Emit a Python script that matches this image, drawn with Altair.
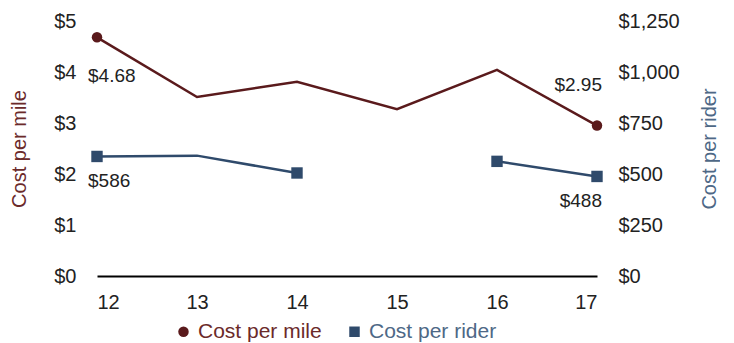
import altair as alt
import pandas as pd

years = [12, 13, 14, 15, 16, 17]
cost_per_mile = [4.68, 3.51, 3.81, 3.27, 4.04, 2.95]
cost_per_rider = [586, 590, 505, None, 562, 488]
series_names = ["Cost per mile", "Cost per rider"]
series_colors = ["#5a1a1c", "#2f4a6b"]
text_colors = ["#6b2a2a", "#4e6886"]
series_shapes = ["circle", "square"]
left_ticks = [0, 1, 2, 3, 4, 5]
right_ticks = [0, 250, 500, 750, 1000, 1250]

FONT = "Liberation Sans"


def frame(values, name, fmt):
    df = pd.DataFrame({"year": years, "value": values, "series": name})
    v = df["value"]
    df["marker"] = v.notna() & (v.shift(1).isna() | v.shift(-1).isna())
    first, last = v.first_valid_index(), v.last_valid_index()
    df["label"] = ""
    df.loc[first, "label"] = fmt(v[first])
    df.loc[last, "label"] = fmt(v[last])
    df["pos"] = ""
    df.loc[first, "pos"] = "first"
    df.loc[last, "pos"] = "last"
    return df


df_m = frame(cost_per_mile, series_names[0], lambda x: f"${x:.2f}")
df_r = frame(cost_per_rider, series_names[1], lambda x: f"${x:,.0f}")

x_enc = alt.X(
    "year:Q",
    scale=alt.Scale(domain=[years[0], years[-1]], nice=False, zero=False),
    axis=alt.Axis(values=years, format="d", title=None, grid=False, ticks=False,
                  domainColor="black", domainWidth=2, labelPadding=16,
                  labelFontSize=20, labelColor="#222", labelFont=FONT),
)

legend = alt.Legend(title=None, orient="none", direction="horizontal",
                    legendX=76, legendY=300, symbolSize=110, labelFontSize=21,
                    labelFont=FONT, columnPadding=22, symbolStrokeWidth=0,
                    labelColor={"expr": f"datum.value == '{series_names[0]}' ? '{text_colors[0]}' : '{text_colors[1]}'"})
color_enc = alt.Color("series:N", scale=alt.Scale(domain=series_names, range=series_colors), legend=legend)
shape_enc = alt.Shape("series:N", scale=alt.Scale(domain=series_names, range=series_shapes), legend=legend)


def side(df, idx, ticks, fmt, orient, title, dy_first, dy_last, size):
    y_enc = alt.Y(
        "value:Q",
        scale=alt.Scale(domain=[ticks[0], ticks[-1]], nice=False),
        axis=alt.Axis(values=ticks, format=fmt, title=title, orient=orient, grid=False,
                      ticks=False, domain=False, labelPadding=21, labelFontSize=20,
                      labelColor="#222", labelFont=FONT, titleFont=FONT,
                      titleFontSize=20, titleFontWeight="normal", titleAngle=270,
                      titleColor=text_colors[idx], titlePadding=24 if orient == "left" else 40),
    )
    base = alt.Chart(df).encode(x=x_enc, y=y_enc)
    line = base.mark_line(color=series_colors[idx], strokeWidth=2.5,
                          invalid="break-paths-filter-domains")
    pts = base.transform_filter("datum.marker").mark_point(
        filled=True, opacity=1, size=size).encode(color=color_enc, shape=shape_enc)
    t1 = base.transform_filter("datum.pos == 'first'").mark_text(
        align="left", baseline="middle", dx=-9, dy=dy_first, fontSize=19,
        font=FONT, color="#222").encode(text="label:N")
    t2 = base.transform_filter("datum.pos == 'last'").mark_text(
        align="right", baseline="middle", dx=5, dy=dy_last, fontSize=19,
        font=FONT, color="#222").encode(text="label:N")
    return alt.layer(line, pts, t1, t2)


left = side(df_m, 0, left_ticks, "$d", "left", "Cost per mile", 39, -41, 110)
right = side(df_r, 1, right_ticks, "$,d", "right", "Cost per rider", 25, 25, 130)

chart = (
    alt.layer(left, right)
    .resolve_scale(y="independent")
    .properties(width=500, height=255,
                padding={"left": 1, "top": 3, "right": 0, "bottom": 0})
    .configure_view(stroke=None)
)

chart.save("out.html", embed_options={"renderer": "svg", "actions": False})
